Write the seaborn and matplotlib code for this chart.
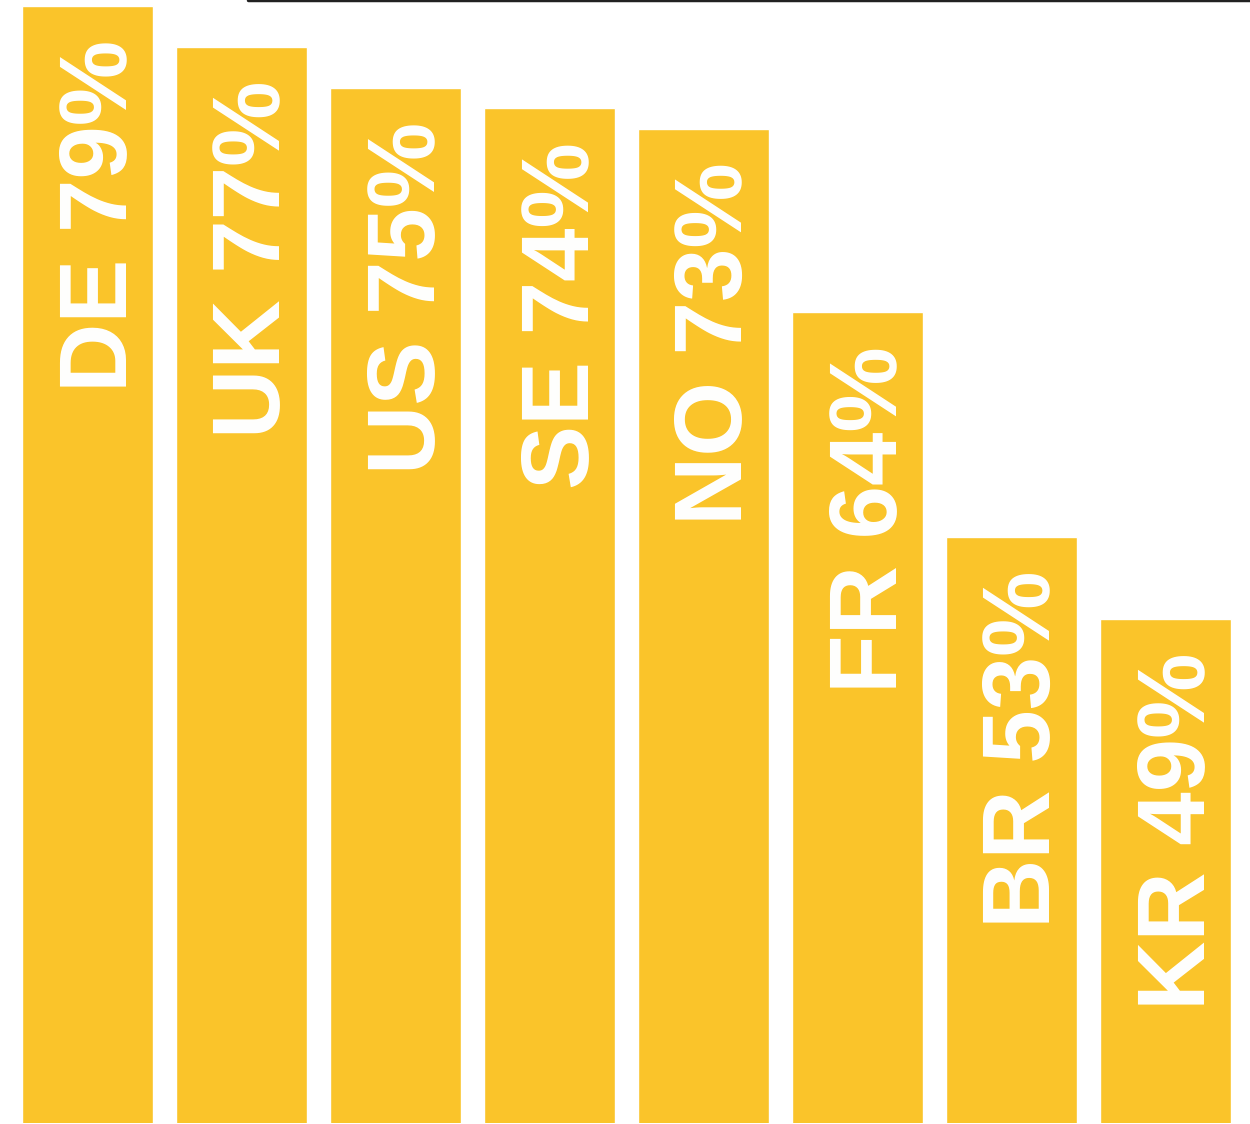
import matplotlib
matplotlib.use("Agg")
import matplotlib.pyplot as plt
import seaborn as sns
import pandas as pd

# Data
countries = ['DE', 'UK', 'US', 'SE', 'NO', 'FR', 'BR', 'KR']
shares = [79, 77, 75, 74, 73, 64, 53, 49]

df = pd.DataFrame({'country': countries, 'share': shares})

sns.set_style('white')
plt.rcParams['font.family'] = ['Liberation Sans', 'DejaVu Sans']
plt.rcParams['text.hinting'] = 'no_hinting'
plt.rcParams['text.hinting_factor'] = 1

fig = plt.figure(figsize=(12.5, 11.24), dpi=100)
ax = fig.add_axes([10.5 / 1250, 1 / 1124, 1232 / 1250, 1123 / 1124])

sns.barplot(data=df, x='country', y='share', color='#FAC42A', saturation=1,
            width=0.85, ax=ax)

ax.set_xlim(-0.5, len(countries) - 0.5)
ax.set_ylim(24.3, 79.3)

# labels inside bars, near the top
for i, (c, v) in enumerate(zip(countries, shares)):
    ax.annotate(f'{c} {v}%', xy=(i, v), xytext=(14, -34), textcoords='offset pixels',
                rotation=90, ha='center', va='top', color='white',
                fontsize=69, fontweight='bold')

# thin rule along the top
ax.axhline(79.3, xmin=(248 - 10.5) / 1232, xmax=1 + 8 / 1232, color='#222222',
           lw=2.5, clip_on=False)

ax.set_xlabel('')
ax.set_ylabel('')
ax.set_xticks([])
ax.set_yticks([])
sns.despine(ax=ax, left=True, bottom=True, top=True, right=True)

fig.savefig('out.png', dpi=100)
